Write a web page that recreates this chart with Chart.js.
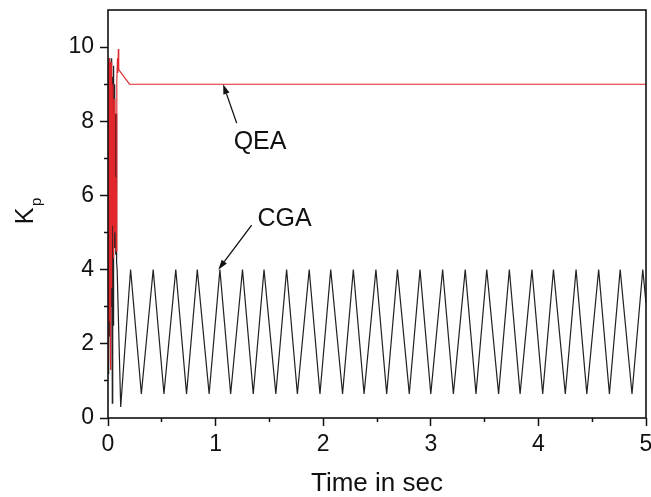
<!DOCTYPE html>
<html>
<head>
<meta charset="utf-8">
<script src="https://cdn.jsdelivr.net/npm/chart.js@4.4.1/dist/chart.umd.min.js"></script>
<style>
  html, body { margin: 0; padding: 0; background: #fff; }
  #wrap { width: 651px; height: 497px; }
</style>
</head>
<body>
<div id="wrap"><canvas id="grafico" width="651" height="497"></canvas></div>
<script>
// CGA: oscilacao inicial e depois triangulos entre ~0.65 e 4
const cgaTime = [0, 0.004, 0.008, 0.012, 0.016, 0.02, 0.024, 0.028, 0.032, 0.036, 0.04, 0.044, 0.048, 0.052,
  0.056, 0.06, 0.064, 0.068, 0.072, 0.076, 0.08, 0.085, 0.118,
  0.21, 0.31, 0.42, 0.52, 0.63, 0.73, 0.83, 0.94, 1.04, 1.14, 1.25, 1.35, 1.45, 1.56, 1.66, 1.76,
  1.87, 1.97, 2.07, 2.18, 2.28, 2.38, 2.49, 2.59, 2.69, 2.80, 2.90, 3.00, 3.11, 3.21, 3.32, 3.42,
  3.52, 3.63, 3.73, 3.83, 3.94, 4.04, 4.14, 4.25, 4.35, 4.45, 4.56, 4.66, 4.76, 4.87, 4.97, 5.0];
const cgaKp = [1.2, 9.5, 1.4, 9.7, 2.2, 9.6, 1.3, 9.4, 3.0, 9.7, 0.4, 9.2, 2.5, 9.5,
  4.6, 9.0, 5.5, 8.2, 4.4, 8.2, 4.2, 4.0, 0.3,
  4, 0.65, 4, 0.65, 4, 0.65, 4, 0.65, 4, 0.65, 4, 0.65, 4, 0.65, 4, 0.65,
  4, 0.65, 4, 0.65, 4, 0.65, 4, 0.65, 4, 0.65, 4, 0.65, 4, 0.65, 4, 0.65,
  4, 0.65, 4, 0.65, 4, 0.65, 4, 0.65, 4, 0.65, 4, 0.65, 4, 0.65, 4, 3.1];

// QEA: oscilacao inicial e estabiliza em 9
const qeaTime = [0, 0.004, 0.008, 0.012, 0.016, 0.02, 0.024, 0.028, 0.032, 0.036, 0.04, 0.046, 0.052,
  0.058, 0.064, 0.07, 0.076, 0.082, 0.088, 0.092, 0.096, 0.1, 0.11, 0.2, 5.0];
const qeaKp = [1.5, 9.6, 1.8, 9.7, 2.6, 9.5, 1.3, 9.6, 3.5, 9.4, 5.2, 9.0, 4.3,
  8.6, 5.0, 6.5, 4.5, 9.1, 9.7, 9.3, 9.95, 9.4, 9.35, 9.0, 9.0];

const xTickLabels = [0, 1, 2, 3, 4, 5];
const yTickLabels = [0, 2, 4, 6, 8, 10];

// anotacoes em unidades de dados: texto, posicao do texto, cauda e ponta da seta
const anotacoes = [
  { texto: 'QEA', tx: 1.413, ty: 7.45, x0: 1.196, y0: 7.95, x1: 1.07, y1: 9.0 },
  { texto: 'CGA', tx: 1.64, ty: 5.37, x0: 1.335, y0: 5.2, x1: 1.025, y1: 4.0 }
];

const toXY = (ts, vs) => ts.map((t, i) => ({ x: t, y: vs[i] }));

const fonte = "'Liberation Sans', Arial, sans-serif";

const molduraPlugin = {
  id: 'moldura',
  afterDatasetsDraw(chart) {
    const { ctx, chartArea: a, scales } = chart;
    ctx.save();
    ctx.strokeStyle = '#111';
    ctx.lineWidth = 1.6;
    ctx.strokeRect(a.left, a.top, a.right - a.left, a.bottom - a.top);

    // setas e textos
    ctx.fillStyle = '#111';
    ctx.strokeStyle = '#111';
    ctx.lineWidth = 1.3;
    ctx.font = '25px ' + fonte;
    ctx.textAlign = 'center';
    ctx.textBaseline = 'middle';
    anotacoes.forEach(an => {
      const x0 = scales.x.getPixelForValue(an.x0), y0 = scales.y.getPixelForValue(an.y0);
      const x1 = scales.x.getPixelForValue(an.x1), y1 = scales.y.getPixelForValue(an.y1);
      const ang = Math.atan2(y1 - y0, x1 - x0);
      const L = 10, W = 3.2;
      ctx.beginPath();
      ctx.moveTo(x0, y0);
      ctx.lineTo(x1 - L * Math.cos(ang), y1 - L * Math.sin(ang));
      ctx.stroke();
      ctx.beginPath();
      ctx.moveTo(x1, y1);
      ctx.lineTo(x1 - L * Math.cos(ang) + W * Math.sin(ang), y1 - L * Math.sin(ang) - W * Math.cos(ang));
      ctx.lineTo(x1 - L * Math.cos(ang) - W * Math.sin(ang), y1 - L * Math.sin(ang) + W * Math.cos(ang));
      ctx.closePath();
      ctx.fill();
      ctx.fillText(an.texto, scales.x.getPixelForValue(an.tx), scales.y.getPixelForValue(an.ty));
    });

    // rotulo do eixo y: K com p subscrito
    ctx.translate(33, 216);
    ctx.rotate(-Math.PI / 2);
    ctx.textAlign = 'center';
    ctx.textBaseline = 'alphabetic';
    ctx.font = '25px ' + fonte;
    ctx.fillText('K', 0, 0);
    ctx.textAlign = 'left';
    ctx.font = '15px ' + fonte;
    ctx.fillText('p', 10, 8);
    ctx.restore();
  }
};

const ctxGrafico = document.getElementById('grafico').getContext('2d');
const grafico = new Chart(ctxGrafico, {
  type: 'line',
  data: {
    datasets: [
      {
        label: 'QEA',
        data: toXY(qeaTime, qeaKp),
        borderColor: '#e2262b',
        borderWidth: 1.1,
        pointRadius: 0,
        tension: 0
      },
      {
        label: 'CGA',
        data: toXY(cgaTime, cgaKp),
        borderColor: '#222',
        borderWidth: 1.2,
        pointRadius: 0,
        tension: 0
      }
    ]
  },
  options: {
    responsive: false,
    animation: false,
    events: [],
    layout: { padding: { top: 10, right: 5, left: 0, bottom: 0 } },
    plugins: { legend: { display: false }, tooltip: { enabled: false } },
    scales: {
      x: {
        type: 'linear',
        min: 0, max: 5,
        afterFit(scale) { scale.height = 79; scale.paddingRight = 0; scale.paddingLeft = 0; },
        border: { display: false },
        grid: {
          drawOnChartArea: false, drawTicks: true, tickLength: 8, tickColor: '#111', tickWidth: 1.5,
          // no eixo de baixo o traco sai do eixo para fora
          tickBorderDash: c => (c.tick && Number.isInteger(c.tick.value)) ? [] : [4, 20]
        },
        ticks: {
          stepSize: 0.5,
          padding: 5,
          color: '#111',
          font: { family: fonte, size: 23 },
          maxRotation: 0,
          callback: v => xTickLabels.includes(v) ? String(v) : ''
        },
        title: {
          display: true,
          text: 'Time in sec',
          color: '#111',
          font: { family: fonte, size: 26, lineHeight: 1 },
          padding: { top: 4, bottom: 0 }
        }
      },
      y: {
        type: 'linear',
        min: 0, max: 11,
        afterFit(scale) { scale.width = 108; scale.paddingTop = 0; scale.paddingBottom = 0; },
        border: { display: false },
        grid: {
          drawOnChartArea: false, drawTicks: true, tickLength: 8, tickWidth: 1.5,
          tickColor: c => c.tick && c.tick.value === 11 ? 'rgba(0,0,0,0)' : '#111',
          // no eixo da esquerda o traco vem de fora para o eixo
          tickBorderDash: c => (c.tick && c.tick.value % 2 === 0) ? [] : [0, 4, 4, 20]
        },
        ticks: {
          stepSize: 1,
          padding: 6,
          color: '#111',
          font: { family: fonte, size: 23 },
          callback: v => yTickLabels.includes(v) ? String(v) : ''
        }
      }
    }
  },
  plugins: [molduraPlugin]
});
</script>
</body>
</html>
